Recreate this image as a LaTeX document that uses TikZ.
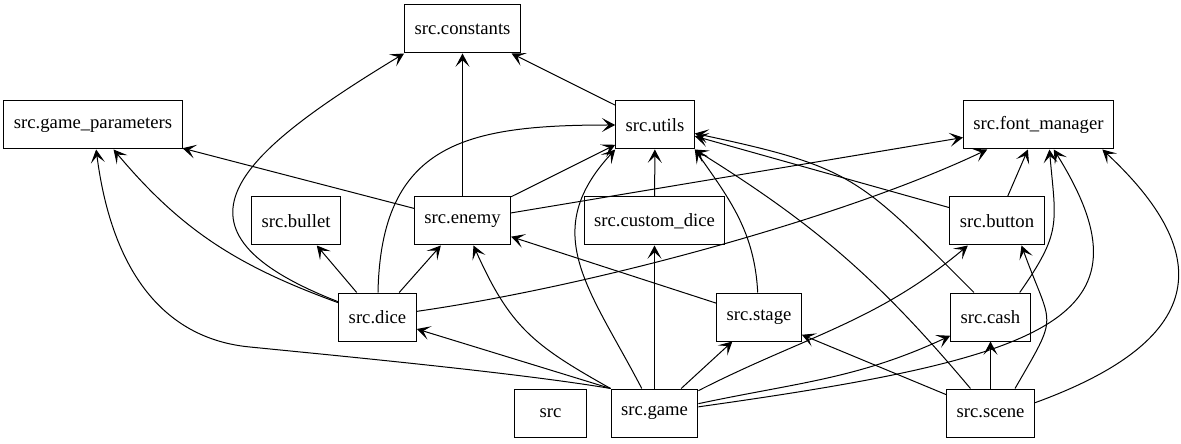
\documentclass[tikz,border=0pt]{standalone}
\usepackage{fontspec}
\setmainfont{Liberation Serif}
\newfontfamily\pkgfont{Liberation Serif}
\usetikzlibrary{arrows.meta}
\begin{document}
\begin{tikzpicture}[x=0.75pt, y=0.75pt,
    pkg/.style={draw, line width=0.75pt, minimum height=36pt, minimum width=54pt,
      inner xsep=7.5pt, font=\pkgfont\fontsize{14}{16}\selectfont},
    dep/.style={-{Stealth[length=10pt, width=10.5pt, inset=5pt]}, line width=0.75pt}]
      \useasboundingbox (0, 0) rectangle (1181, 443);
      \node[pkg] (constants) at (462.5, 414) {src.constants};
      \node[pkg] (gameparams) at (93, 318) {src.game\_parameters};
      \node[pkg] (utils) at (655, 318) {src.utils};
      \node[pkg] (fontmgr) at (1038.5, 318) {src.font\_manager};
      \node[pkg] (bullet) at (296, 222) {src.bullet};
      \node[pkg] (enemy) at (462.5, 222) {src.enemy};
      \node[pkg] (customdice) at (654.5, 222) {src.custom\_dice};
      \node[pkg] (button) at (997, 222) {src.button};
      \node[pkg] (dice) at (377.5, 126) {src.dice};
      \node[pkg] (stage) at (759, 126) {src.stage};
      \node[pkg] (cash) at (990.5, 126) {src.cash};
      \node[pkg] (src) at (550.5, 30) {src};
      \node[pkg] (game) at (654.5, 30) {src.game};
      \node[pkg] (scene) at (990.5, 30) {src.scene};
      \draw[dep] (enemy) -- (constants);
      \draw[dep] (utils) -- (constants);
      \draw[dep] (dice) .. controls (154, 213) and (235, 287) .. (constants.south west);
      \draw[dep] (enemy) -- (gameparams);
      \draw[dep] (dice) to[out=160, in=-50] (gameparams);
      \draw[dep] (game.north west) .. controls (520, 70) and (330, 88) .. (250, 96)
        .. controls (165, 104) and (112, 170) .. (gameparams);
      \draw[dep] (dice) -- (bullet);
      \draw[dep] (dice) -- (enemy);
      \draw[dep] (dice) .. controls (381, 300) and (466, 318) .. (utils);
      \draw[dep] (dice) .. controls (600, 158) and (850, 228) .. (fontmgr);
      \draw[dep] (enemy) -- (utils);
      \draw[dep] (enemy) -- (fontmgr);
      \draw[dep] (customdice) -- (utils);
      \draw[dep] (game) -- (customdice);
      \draw[dep] (game.north west) .. controls (533, 98) and (510, 116) .. (enemy);
      \draw[dep] (game.north west) -- (dice);
      \draw[dep] (game) .. controls (590, 154) and (538, 210) .. (utils.south west);
      \draw[dep] (game) -- (stage);
      \draw[dep] (game) to[out=27, in=-140] (button);
      \draw[dep] (game) to[out=12, in=-155] (cash);
      \draw[dep] (game) .. controls (1046, 85) and (1160, 123) .. (fontmgr);
      \draw[dep] (stage) to[out=93, in=-55] (utils.south east);
      \draw[dep] (stage) -- (enemy);
      \draw[dep] (scene) -- (stage);
      \draw[dep] (scene) to[bend right=9] (utils.south east);
      \draw[dep] (scene) -- (cash);
      \draw[dep] (scene.45) to[out=60, in=-70, looseness=1.6] (button.-45);
      \draw[dep] (scene.13) to[out=20, in=-43, looseness=1.65] (fontmgr.-21);
      \draw[dep] (cash.124) to[out=135, in=-12, looseness=1.3] (utils);
      \draw[dep] (button) -- (utils);
      \draw[dep] (button) -- (fontmgr);
      \draw[dep] (cash.40) to[out=55, in=-85, looseness=1.3] (fontmgr.-66);
    \end{tikzpicture}
\end{document}
